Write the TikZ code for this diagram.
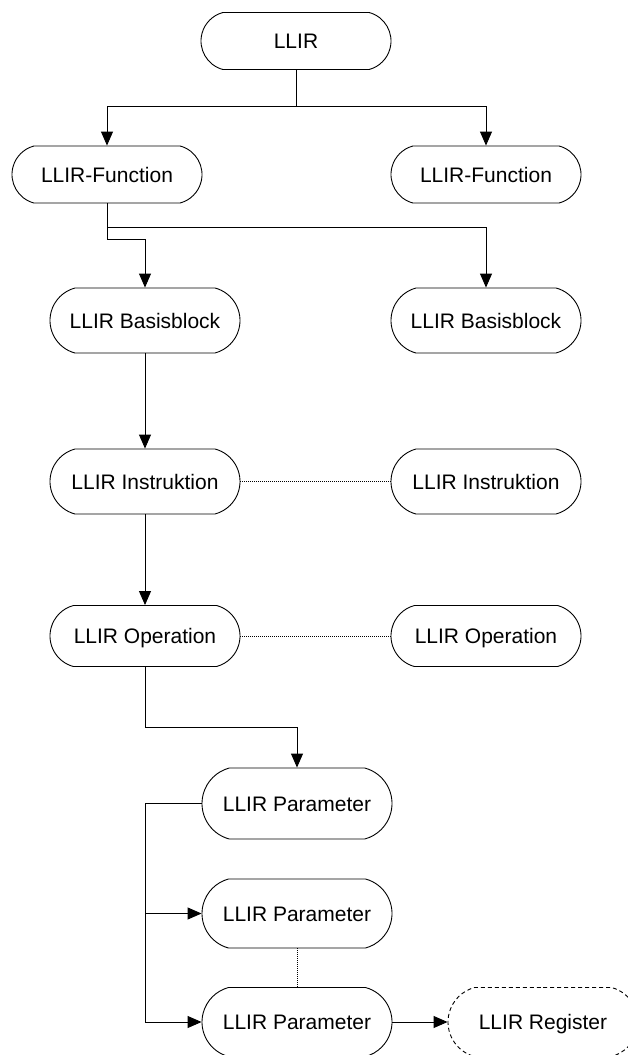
\documentclass[tikz,border=0pt]{standalone}
\usepackage{fontspec}
\setmainfont{Liberation Sans}
\usetikzlibrary{arrows.meta,shapes.misc}
\begin{document}
\begin{tikzpicture}[x=1pt,y=-1pt,
  box/.style={draw, rounded rectangle, rounded rectangle arc length=150, minimum width=190pt, inner sep=0pt, line width=0.9pt,
    font=\fontsize{21}{25}\selectfont, text height=15pt, text depth=0pt},
  conn/.style={line width=0.9pt},
  arr/.style={conn, -{Triangle[length=14pt,width=12pt]}},
  dots/.style={line width=0.9pt, dash pattern=on 1pt off 1pt},
  dashbox/.style={box, dash pattern=on 4pt off 3pt}]
\useasboundingbox (0,0) rectangle (627,1055);
\node[box, minimum height=57pt] (llir) at (296,41) {LLIR};
\node[box, minimum height=57pt] (fl) at (107,174.5) {LLIR-Function};
\node[box, minimum height=57pt] (fr) at (486,174.5) {LLIR-Function};
\node[box, minimum height=65pt] (bbl) at (145,320.5) {LLIR Basisblock};
\node[box, minimum height=65pt] (bbr) at (486,320.5) {LLIR Basisblock};
\node[box, minimum height=65pt] (il) at (145,481.5) {LLIR Instruktion};
\node[box, minimum height=65pt] (ir) at (486,481.5) {LLIR Instruktion};
\node[box, minimum height=61pt] (ol) at (145,636) {LLIR Operation};
\node[box, minimum height=61pt] (or) at (486,636) {LLIR Operation};
\node[box, minimum height=71pt] (p1) at (297,803.5) {LLIR Parameter};
\node[box, minimum height=69pt] (p2) at (297,913.5) {LLIR Parameter};
\node[box, minimum height=69pt] (p3) at (297,1022) {LLIR Parameter};
\node[dashbox, minimum height=69pt] (reg) at (543,1022) {LLIR Register};

\coordinate (j1) at (296,106);
\draw[conn] (llir.south) -- (j1);
\draw[arr] (j1) -| (fl.north);
\draw[arr] (j1) -| (fr.north);

\coordinate (j2) at (107,227);
\coordinate (j3) at (107,239);
\draw[conn] (fl.south) -- (j3);
\draw[arr] (j2) -| (bbr.north);
\draw[arr] (j3) -| (bbl.north);

\draw[arr] (bbl.south) -- (il.north);
\draw[arr] (il.south) -- (ol.north);
\draw[dots] (il.east) -- (ir.west);
\draw[dots] (ol.east) -- (or.west);

\coordinate (j4) at (145,727);
\draw[conn] (ol.south) -- (j4);
\draw[arr] (j4) -| (p1.north);

\coordinate (j5) at (145,803.5);
\coordinate (j6) at (145,913.5);
\coordinate (j7) at (145,1022);
\draw[conn] (p1.west) -- (j5) -- (j7);
\draw[arr] (j6) -- (p2.west);
\draw[arr] (j7) -- (p3.west);
\draw[dots] (p2.south) -- (p3.north);
\draw[arr] (p3.east) -- (reg.west);
\end{tikzpicture}
\end{document}
